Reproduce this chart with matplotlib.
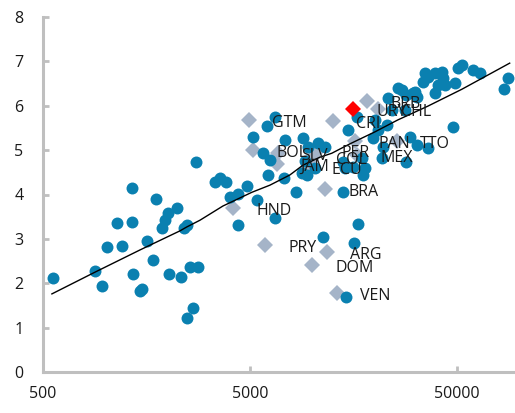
import matplotlib
matplotlib.use("Agg")
import matplotlib.pyplot as plt
from matplotlib.ticker import FixedLocator, NullLocator, FixedFormatter

plt.rcParams['font.family'] = ['Open Sans', 'DejaVu Sans']

# all countries: GDP per capita (log scale) vs score
gdp = [559, 892, 964, 1019, 1139, 1204, 1346, 1346, 1361, 1471, 1505,
       1590, 1700, 1757, 1879, 1942, 2008, 2220, 2031, 2321, 2400, 2481,
       2565, 2804, 2652, 2481, 2742, 3388, 3582, 3829, 4004, 4375, 4375,
       4836, 5405, 6109, 6604, 6041, 5169, 5778, 6247, 7300, 8342, 6604,
       9021, 10656, 11517, 8918, 9427, 10304, 14070, 14385, 15726, 17570,
       14875, 14070, 11261, 16622, 15900, 14543, 16438, 20085, 20763,
       22951, 23208, 24266, 25940, 28352, 31341, 32050, 35027, 36219,
       34255, 39149, 42317, 42789, 43752, 40470, 39149, 48903, 50560,
       52860, 59760, 64600, 88170, 84330, 47820, 29645, 21700, 28352,
       27120, 30650, 9221, 9531, 7381, 28040, 32050, 36219, 19640, 21940,
       17380, 17970]
score = [2.12, 2.27, 1.94, 2.82, 3.36, 2.84, 4.14, 3.38, 2.21, 1.82, 1.87,
         2.95, 2.52, 3.90, 3.24, 3.42, 3.58, 3.69, 2.21, 2.14, 3.24, 3.31,
         2.36, 2.36, 1.44, 1.22, 4.73, 4.28, 4.37, 4.28, 3.94, 4.01, 3.31,
         4.19, 3.87, 4.44, 5.74, 5.54, 5.29, 4.93, 4.77, 4.37, 4.05, 3.47,
         5.27, 5.16, 5.07, 4.48, 4.44, 4.59, 4.73, 4.59, 4.62, 4.44,
         5.45, 4.05, 3.04, 3.33, 2.91, 1.69, 5.74, 5.68, 5.45,
         5.56, 6.17, 5.90, 6.40, 6.24, 6.31, 6.19, 6.73, 6.64,
         6.53, 6.73, 6.76, 6.62, 6.46, 6.46, 6.28, 6.51, 6.85,
         6.91, 6.80, 6.73, 6.62, 6.37, 5.52, 5.29, 4.82, 4.73,
         6.35, 6.28, 4.75, 5.07, 5.23, 5.90, 5.11, 5.05, 5.27, 5.07,
         4.82, 4.59]

# Latin America & Caribbean
lac_names = ['GTM', 'BOL', 'SLV', 'JAM', 'PER', 'COL', 'ECU', 'MEX', 'PAN',
             'TTO', 'CRI', 'BRB', 'CHL', 'HND', 'BRA', 'PRY', 'ARG', 'DOM',
             'VEN']
lac_gdp = [4945, 5169, 6827, 6750, 10656, 10078, 9531, 16438, 16078,
           25650, 12589, 18375, 20763, 4140, 11517, 5909, 11774, 9965, 13163]
lac_score = [5.68, 5.00, 4.93, 4.68, 5.00, 4.84, 4.62, 4.89, 5.20,
             5.20, 5.65, 6.10, 5.92, 3.69, 4.12, 2.86, 2.70, 2.41, 1.78]

# highlighted country
hl_name = 'URY'
hl_gdp = 15726
hl_score = 5.92

# fitted line
fit_gdp = [552, 892, 1471, 2295, 2481, 2868, 3703, 5113, 6247, 7803, 9021,
           10895, 12450, 15207, 20085, 25940, 36219, 52860, 90150]
fit_score = [1.76, 2.25, 2.75, 3.18, 3.27, 3.42, 3.74, 4.05, 4.21, 4.44, 4.66,
             4.84, 4.93, 5.14, 5.41, 5.68, 5.99, 6.37, 6.96]

fig = plt.figure(figsize=(5.15, 4.13), dpi=100)
ax = fig.add_axes([43/515, 41/413, 476/515, 355/413])

ax.plot(lac_gdp, lac_score, 'D', color='#A5B4C8', ms=8.2, mew=0, zorder=2)
ax.plot(gdp, score, 'o', color='#0A80B0', ms=8.6, mew=0, zorder=3)
ax.plot([hl_gdp], [hl_score], 'D', color='#FF0000', ms=8.2, mew=0, zorder=4)
ax.plot(fit_gdp, fit_score, color='black', lw=1.0, zorder=5)

for n, gx, gy in zip(lac_names + [hl_name], lac_gdp + [hl_gdp], lac_score + [hl_score]):
    ax.annotate(n, (gx, gy), xytext=(17, -2), textcoords='offset points',
                ha='left', va='center', fontsize=11.5, color='#1a1a1a', zorder=6)

ax.set_xscale('log')
ax.set_xlim(500, 100000)
ax.set_ylim(0, 8)
ax.xaxis.set_major_locator(FixedLocator([500, 5000, 50000]))
ax.xaxis.set_major_formatter(FixedFormatter(['500', '5000', '50000']))
ax.xaxis.set_minor_locator(NullLocator())
ax.set_yticks(range(0, 9))

for s in ['top', 'right']:
    ax.spines[s].set_visible(False)
for s in ['left', 'bottom']:
    ax.spines[s].set_color('#BFBFBF')
    ax.spines[s].set_linewidth(2.2)
    ax.spines[s].set_clip_on(False)

ax.tick_params(axis='both', direction='in', color='#BFBFBF', width=2, length=4,
               labelsize=11.5, labelcolor='#1a1a1a')
ax.tick_params(axis='x', pad=10)
ax.tick_params(axis='y', pad=14)

fig.savefig('out.png', dpi=100)
